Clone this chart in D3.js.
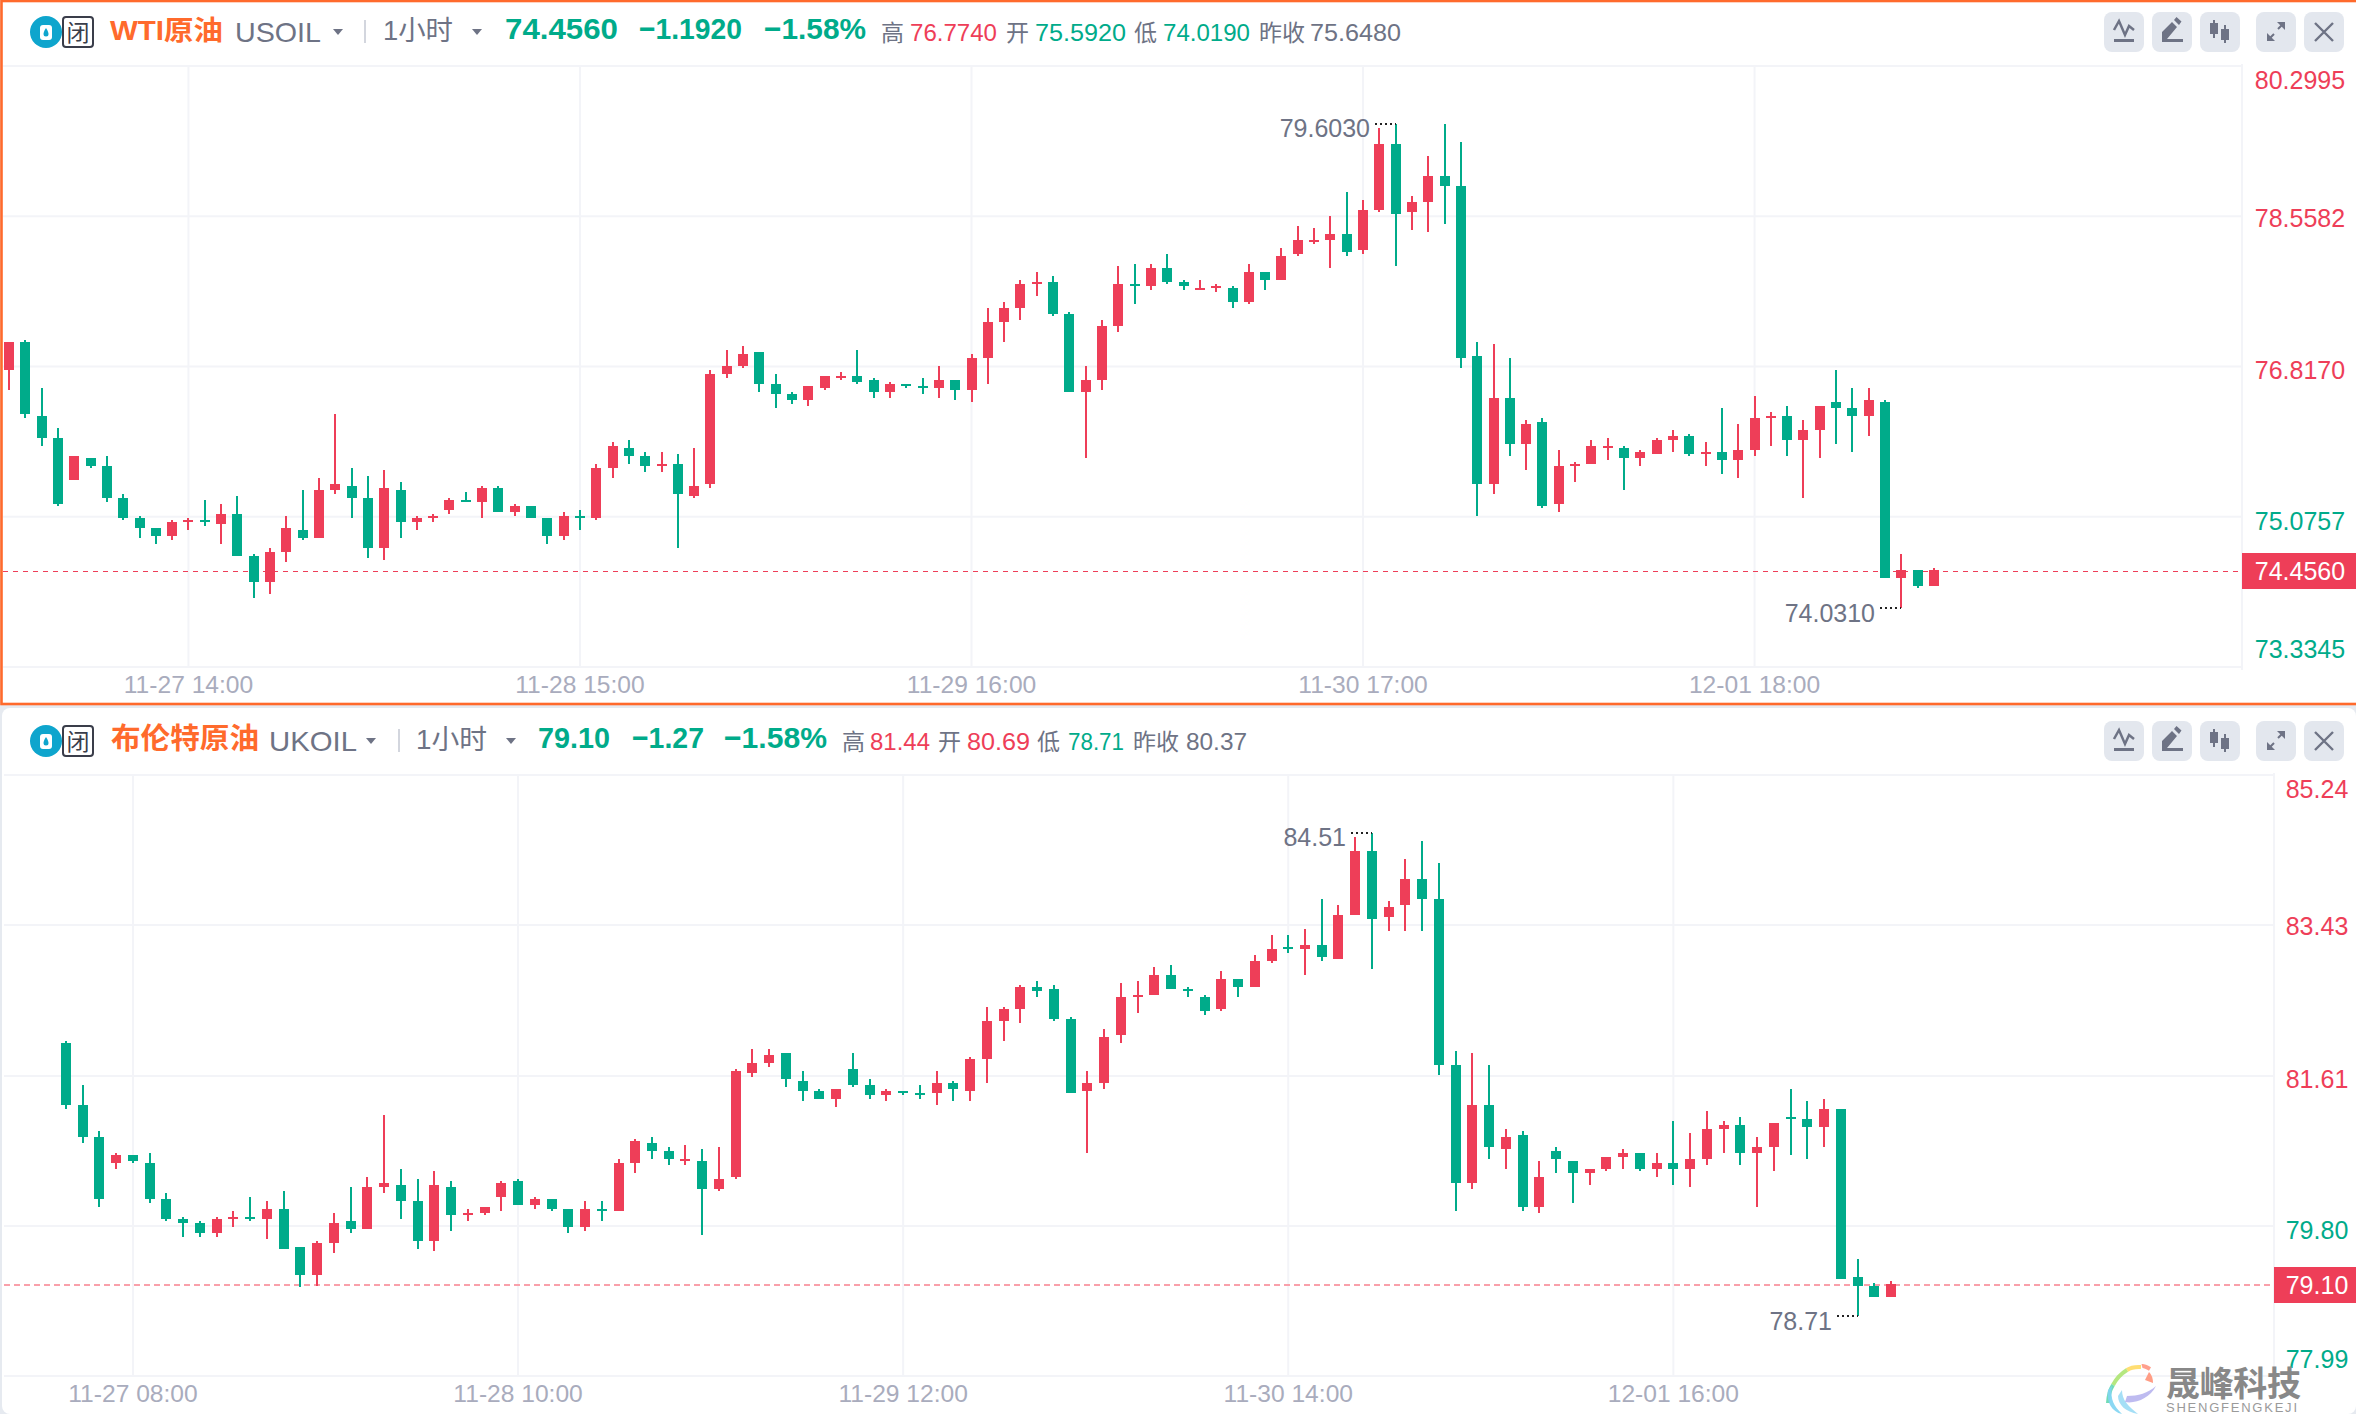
<!DOCTYPE html>
<html lang="zh">
<head>
<meta charset="utf-8">
<title>WTI原油 / 布伦特原油 1小时</title>
<script src="https://cdn.jsdelivr.net/npm/d3@7/dist/d3.min.js"></script>
<style>
html,body{margin:0;padding:0;background:#e6eaf0}
svg{display:block}
text{font-family:"Liberation Sans","Noto Sans CJK SC",sans-serif}
</style>
</head>
<body>
<svg id="chart" width="2356" height="1414"></svg>
<script>
// ---------- WTI ----------
const wtiOpen = [
76.778,77.103,76.245,75.990,75.503,75.758,75.665,75.294,75.062,74.946,
74.854,75.016,75.039,74.993,75.109,74.622,74.320,74.668,74.923,74.830,
75.387,75.433,75.294,74.714,75.387,75.016,75.062,75.155,75.271,75.248,
75.410,75.132,75.201,75.062,74.854,75.085,75.062,75.642,75.874,75.781,
75.665,75.688,75.317,75.456,76.732,76.825,76.987,76.616,76.500,76.430,
76.570,76.686,76.709,76.662,76.523,76.616,76.593,76.570,76.662,76.546,
76.917,77.335,77.497,77.775,77.798,77.428,76.523,76.662,77.288,77.775,
77.752,77.961,77.798,77.706,77.729,77.729,77.567,77.914,77.822,78.123,
78.262,78.285,78.355,78.170,78.633,79.398,78.610,78.726,79.027,78.912,
76.941,75.456,76.454,75.920,76.175,75.225,75.665,75.688,75.874,75.874,
75.758,75.804,75.967,76.013,75.804,75.828,75.735,75.851,76.222,76.245,
75.967,76.083,76.407,76.338,76.245,76.407,74.367,74.459,74.274];
const wtiHigh = [
77.103,77.126,76.570,76.106,75.781,75.758,75.781,75.341,75.085,74.946,
75.039,75.062,75.271,75.225,75.317,74.645,74.714,75.085,75.387,75.526,
76.268,75.642,75.549,75.619,75.480,75.085,75.109,75.294,75.364,75.433,
75.433,75.225,75.201,75.062,75.132,75.155,75.688,75.943,75.967,75.828,
75.828,75.804,75.874,76.778,77.010,77.056,76.987,76.732,76.523,76.593,
76.709,76.755,77.010,76.686,76.639,76.616,76.686,76.825,76.662,76.964,
77.497,77.567,77.822,77.914,77.868,77.451,76.825,77.358,77.984,78.007,
78.007,78.123,77.822,77.822,77.775,77.752,78.007,77.914,78.193,78.448,
78.425,78.564,78.842,78.749,79.584,79.630,78.796,79.259,79.630,79.422,
77.103,77.080,76.917,76.199,76.222,75.851,75.712,75.967,75.990,75.897,
75.851,75.990,76.083,76.036,75.943,76.338,76.152,76.477,76.291,76.361,
76.199,76.361,76.778,76.570,76.570,76.430,74.645,74.459,74.483];
const wtiLow = [
76.546,76.222,75.897,75.201,75.503,75.642,75.248,75.039,74.830,74.761,
74.807,74.923,74.970,74.761,74.622,74.135,74.181,74.552,74.807,74.830,
75.341,75.062,74.599,74.575,74.830,74.923,75.016,75.109,75.248,75.062,
75.132,75.085,75.062,74.761,74.807,74.923,75.039,75.526,75.688,75.596,
75.596,74.714,75.294,75.410,76.686,76.801,76.523,76.338,76.384,76.361,
76.546,76.662,76.616,76.454,76.454,76.570,76.500,76.454,76.430,76.407,
76.616,77.103,77.358,77.636,77.404,76.523,75.758,76.546,77.219,77.543,
77.706,77.775,77.706,77.706,77.682,77.497,77.543,77.706,77.822,78.100,
78.239,77.961,78.100,78.123,78.610,77.984,78.401,78.378,78.471,76.801,
75.085,75.341,75.781,75.619,75.178,75.132,75.480,75.688,75.735,75.387,
75.665,75.804,75.828,75.781,75.665,75.572,75.526,75.781,75.897,75.781,
75.294,75.758,75.920,75.828,76.013,74.367,74.019,74.251,74.274];
const wtiClose = [
77.103,76.268,75.990,75.225,75.781,75.665,75.294,75.062,74.946,74.854,
75.016,75.039,75.016,75.109,74.622,74.320,74.668,74.946,74.830,75.387,
75.456,75.294,74.714,75.410,75.016,75.062,75.085,75.271,75.248,75.410,
75.132,75.201,75.062,74.854,75.085,75.062,75.642,75.897,75.781,75.665,
75.688,75.341,75.433,76.732,76.825,76.964,76.616,76.500,76.430,76.593,
76.709,76.709,76.639,76.523,76.616,76.593,76.570,76.662,76.546,76.917,
77.335,77.497,77.775,77.798,77.428,76.523,76.662,77.288,77.775,77.752,
77.961,77.798,77.752,77.729,77.752,77.567,77.914,77.822,78.100,78.285,
78.285,78.355,78.146,78.633,79.398,78.587,78.726,79.027,78.912,76.917,
75.456,76.454,75.920,76.152,75.201,75.665,75.688,75.897,75.897,75.758,
75.828,75.967,76.013,75.804,75.828,75.735,75.851,76.222,76.245,75.967,
76.083,76.361,76.338,76.245,76.430,74.367,74.459,74.274,74.456];
const wtiPriceTicks = [80.2995,78.5582,76.8170,75.0757,73.3345];
const wtiTimeIndex = [11,35,59,83,107];
const wtiTimeLabels = ["11-27 14:00","11-28 15:00","11-29 16:00","11-30 17:00","12-01 18:00"];

// ---------- Brent ----------
const brentOpen = [
82.01,81.26,80.87,80.56,80.66,80.56,80.13,79.88,79.84,79.71,
79.88,79.91,79.88,80.01,79.55,79.21,79.59,79.86,79.76,80.27,
80.29,80.10,79.62,80.27,79.93,79.96,80.15,80.34,80.05,80.13,
80.01,79.79,80.01,79.98,80.56,80.80,80.70,80.58,80.58,80.25,
80.39,81.65,81.77,81.89,81.55,81.43,81.33,81.69,81.50,81.38,
81.43,81.40,81.40,81.52,81.43,81.81,82.27,82.42,82.68,82.66,
82.30,81.43,81.52,82.10,82.56,82.59,82.83,82.66,82.56,82.42,
82.78,82.68,83.00,83.17,83.14,83.19,83.02,83.55,84.32,83.53,
83.67,83.99,83.74,81.74,80.32,81.26,80.73,80.90,80.03,80.70,
80.58,80.44,80.49,80.63,80.68,80.49,80.56,80.49,80.61,80.97,
81.02,80.68,80.75,81.11,81.09,80.99,81.21,79.18,79.08,78.94];
const brentHigh = [
82.03,81.50,80.95,80.68,80.66,80.68,80.20,79.91,79.86,79.91,
79.98,80.15,80.10,80.22,79.55,79.62,79.96,80.27,80.39,81.14,
80.49,80.37,80.46,80.34,80.01,80.03,80.34,80.37,80.15,80.13,
80.01,80.10,80.10,80.61,80.85,80.87,80.75,80.78,80.73,80.75,
81.69,81.93,81.93,81.89,81.67,81.45,81.45,81.89,81.57,81.45,
81.43,81.50,81.67,81.55,81.84,82.44,82.44,82.71,82.76,82.71,
82.32,81.67,82.18,82.73,82.76,82.92,82.95,82.68,82.59,82.88,
82.78,83.07,83.31,83.31,83.38,83.74,83.67,84.49,84.54,83.72,
84.23,84.44,84.18,81.91,81.89,81.74,80.97,80.95,80.58,80.75,
80.58,80.49,80.63,80.73,80.68,80.68,81.07,80.92,81.19,81.07,
81.11,80.87,81.04,81.45,81.31,81.33,81.21,79.40,79.11,79.14];
const brentLow = [
81.21,80.80,80.03,80.49,80.56,80.08,79.86,79.67,79.67,79.67,
79.79,79.86,79.64,79.52,79.06,79.08,79.47,79.71,79.76,80.20,
79.88,79.52,79.50,79.74,79.86,79.93,79.98,80.05,80.01,79.98,
79.71,79.74,79.86,79.98,80.44,80.61,80.54,80.54,79.69,80.22,
80.37,81.60,81.72,81.48,81.31,81.33,81.24,81.48,81.33,81.31,
81.38,81.33,81.26,81.31,81.31,81.52,82.03,82.25,82.56,82.27,
81.40,80.68,81.45,82.01,82.37,82.59,82.66,82.56,82.35,82.39,
82.56,82.68,82.97,83.09,82.83,83.00,83.02,83.55,82.90,83.36,
83.36,83.36,81.62,79.98,80.25,80.61,80.49,79.98,79.96,80.44,
80.08,80.29,80.46,80.49,80.46,80.39,80.29,80.27,80.54,80.68,
80.54,80.03,80.46,80.66,80.61,80.75,79.16,78.71,78.94,78.94];
const brentClose = [
81.26,80.87,80.13,80.66,80.58,80.13,79.88,79.84,79.71,79.88,
79.91,79.88,80.01,79.52,79.21,79.59,79.84,79.76,80.27,80.32,
80.10,79.62,80.29,79.93,79.96,80.03,80.32,80.05,80.13,80.01,
79.79,80.01,79.98,80.56,80.82,80.70,80.61,80.61,80.25,80.37,
81.67,81.77,81.86,81.57,81.43,81.33,81.45,81.50,81.38,81.43,
81.40,81.38,81.52,81.45,81.81,82.27,82.42,82.68,82.63,82.30,
81.40,81.52,82.08,82.56,82.59,82.83,82.66,82.63,82.39,82.78,
82.68,83.00,83.14,83.14,83.19,83.04,83.55,84.32,83.50,83.65,
83.99,83.74,81.74,80.32,81.26,80.75,80.87,80.03,80.39,80.61,
80.44,80.49,80.63,80.68,80.49,80.56,80.49,80.61,80.97,81.02,
80.68,80.75,81.04,81.09,80.99,81.21,79.16,79.08,78.94,79.10];
const brentPriceTicks = [85.24,83.43,81.61,79.80,77.99];
const brentTimeIndex = [4,27,50,73,96];
const brentTimeLabels = ["11-27 08:00","11-28 10:00","11-29 12:00","11-30 14:00","12-01 16:00"];

const RED="#ee3e58", GREEN="#00ab8a", ORANGE="#ff6a2c", GRAY="#6e7385", AXIS="#a9acbd", GRID="#f3f4f8", BTN="#e3e7ee";

const svg=d3.select("#chart");

// panels
svg.append("rect").attr("width",2356).attr("height",1414).attr("fill","#e6eaf0");
svg.append("rect").attr("x",2).attr("y",708).attr("width",2354).attr("height",706).attr("rx",8).attr("fill","#fff");
svg.append("rect").attr("x",1.5).attr("y",1).attr("width",2356).attr("height",703).attr("fill","#fff")
   .attr("stroke",ORANGE).attr("stroke-width",2.6);

function drawHeader(dy, items, triangles, sepX){
  const g=svg.append("g").attr("transform",`translate(0,${dy})`);
  // exchange logo
  g.append("circle").attr("cx",46).attr("cy",32).attr("r",16).attr("fill","#0ea5cd");
  g.append("rect").attr("x",40).attr("y",25).attr("width",12).attr("height",15).attr("rx",3).attr("fill","#fff");
  g.append("path").attr("d","M46 28 C44 31 43.5 33 43.5 34 a2.5 2.5 0 0 0 5 0 C48.5 33 48 31 46 28Z").attr("fill","#0ea5cd");
  g.append("rect").attr("x",63).attr("y",17).attr("width",30).attr("height",30).attr("rx",3)
    .attr("fill","#fff").attr("stroke","#3a3d4a").attr("stroke-width",2);
  g.append("text").attr("x",78).attr("y",41).attr("text-anchor","middle").attr("font-size",23).attr("fill","#3a3d4a").text("闭");
  // separator + triangles
  g.append("rect").attr("x",sepX).attr("y",20).attr("width",2).attr("height",23).attr("fill","#d3d6de");
  triangles.forEach(x=>g.append("path").attr("d",`M${x} 29 h10 l-5 6Z`).attr("fill",GRAY));
  // text runs
  items.forEach(t=>{
    const el=g.append("text").attr("x",t.x).attr("y",t.y||41).attr("font-size",t.s).attr("fill",t.c)
      .attr("font-weight",t.b?600:400).text(t.t);
    if(t.w) el.attr("textLength",t.w).attr("lengthAdjust","spacingAndGlyphs");
  });
  // toolbar buttons
  const bx=[2104,2152,2200,2256,2304];
  bx.forEach(x=>g.append("rect").attr("x",x).attr("y",12).attr("width",40).attr("height",40).attr("rx",8).attr("fill",BTN));
  const ic=(x)=>g.append("g").attr("transform",`translate(${x},12)`);
  let a=ic(bx[0]);
  a.append("rect").attr("x",10).attr("y",27).attr("width",20).attr("height",3).attr("fill",GRAY);
  a.append("path").attr("d","M10 18 L15 9 L21 23 L25 14 L30 18").attr("fill","none").attr("stroke",GRAY).attr("stroke-width",2.5);
  a=ic(bx[1]);
  a.append("rect").attr("x",10).attr("y",27).attr("width",21).attr("height",3).attr("fill",GRAY);
  a.append("path").attr("d","M10 27 V20 L20 10 L25 15 L15 27Z M22 8 L24.5 5 L29.5 9.5 L27 13Z").attr("fill",GRAY);
  a=ic(bx[2]);
  a.append("rect").attr("x",10).attr("y",11).attr("width",8).attr("height",11).attr("fill",GRAY);
  a.append("rect").attr("x",13).attr("y",8).attr("width",2).attr("height",18).attr("fill",GRAY);
  a.append("rect").attr("x",21).attr("y",17).attr("width",8).attr("height",11).attr("fill",GRAY);
  a.append("rect").attr("x",24).attr("y",13).attr("width",2).attr("height",18).attr("fill",GRAY);
  a=ic(bx[3]);
  a.append("path").attr("d","M12 28 L18 22 M22 17 L28 11").attr("stroke",GRAY).attr("stroke-width",2).attr("fill","none");
  a.append("path").attr("d","M11 29 V21 L19 29Z M29 10 V18 L21 10Z").attr("fill",GRAY);
  a=ic(bx[4]);
  a.append("path").attr("d","M11 11 L29 29 M29 11 L11 29").attr("stroke",GRAY).attr("stroke-width",2.4).attr("fill","none");
}

function drawChart(c){
  const n=c.open.length;
  const x=d3.scaleLinear().domain([0,n-1]).range(c.xRange);
  const y=d3.scaleLinear().domain(d3.extent(c.priceTicks)).range([c.plotBottom,c.plotTop]);
  const g=svg.append("g");

  // horizontal grid + price labels
  const yAxis=d3.axisRight(y).offset(0).tickValues(c.priceTicks).tickSize(-(c.axisX-c.plotLeft))
      .tickFormat(d3.format(c.fmt));
  const ya=g.append("g").attr("transform",`translate(${c.axisX},0)`).call(yAxis);
  ya.select(".domain").remove();
  ya.selectAll("line").attr("stroke",GRID).attr("stroke-width",2);
  ya.selectAll("text").attr("font-size",c.labelSize).attr("text-anchor","middle")
    .attr("x",c.labelX-c.axisX).attr("dy",0)
    .attr("y",(d,i)=>c.labelOffsets[i])
    .attr("fill",d=>d>=c.prevClose?RED:GREEN);
  // axis rule
  g.append("rect").attr("x",c.axisX-1).attr("y",c.plotTop-2).attr("width",2).attr("height",c.plotBottom-c.plotTop+5).attr("fill",GRID);

  // vertical grid + time labels
  const xAxis=d3.axisBottom(x).offset(0).tickValues(c.timeIndex).tickSize(-(c.plotBottom-c.plotTop+2))
      .tickFormat((d,i)=>c.timeLabels[i]);
  const xa=g.append("g").attr("transform",`translate(0,${c.plotBottom+1})`).call(xAxis);
  xa.select(".domain").remove();
  xa.selectAll("line").attr("stroke",GRID).attr("stroke-width",2);
  xa.selectAll("text").attr("font-size",24.6).attr("fill",AXIS).attr("dy",0).attr("y",c.timeBaseline-c.plotBottom-1);

  // last price line
  const ly=Math.round(y(c.last))+1;
  g.append("line").attr("x1",c.plotLeft).attr("x2",c.axisX).attr("y1",ly).attr("y2",ly)
    .attr("stroke",c.lastStroke).attr("stroke-width",c.lastWidth).attr("stroke-dasharray",c.lastDash)
    .attr("shape-rendering","crispEdges");

  // candles
  const data=d3.range(n).map(i=>({i,o:c.open[i],h:c.high[i],l:c.low[i],cl:c.close[i]}));
  const cg=g.append("g").attr("shape-rendering","crispEdges");
  const col=d=>d.cl>=d.o?RED:GREEN;
  cg.selectAll("rect.wick").data(data).join("rect").attr("class","wick")
    .attr("x",d=>Math.round(x(d.i))-1).attr("width",2)
    .attr("y",d=>Math.round(y(d.h))).attr("height",d=>Math.max(1,Math.round(y(d.l))-Math.round(y(d.h))))
    .attr("fill",col);
  cg.selectAll("rect.body").data(data).join("rect").attr("class","body")
    .attr("x",d=>Math.round(x(d.i))-5).attr("width",10)
    .attr("y",d=>Math.round(y(Math.max(d.o,d.cl))))
    .attr("height",d=>Math.max(2,Math.round(y(Math.min(d.o,d.cl)))-Math.round(y(Math.max(d.o,d.cl)))))
    .attr("fill",col);

  // high / low annotations
  [[c.hiIndex,c.high[c.hiIndex],c.hiLabel,13],[c.loIndex,c.low[c.loIndex],c.loLabel,14]].forEach(([i,v,lab,dy])=>{
    const px=Math.round(x(i)), py=Math.round(y(v));
    g.append("line").attr("x1",px-21).attr("x2",px).attr("y1",py).attr("y2",py)
      .attr("stroke","#222").attr("stroke-width",2).attr("stroke-dasharray","2,3");
    g.append("text").attr("x",px-26).attr("y",py+dy).attr("text-anchor","end")
      .attr("font-size",25).attr("fill",GRAY).text(lab);
  });

  // last price tag
  g.append("rect").attr("x",c.axisX).attr("y",ly-18).attr("width",2356-c.axisX).attr("height",36).attr("fill",RED);
  g.append("text").attr("x",c.labelX).attr("y",ly+9).attr("text-anchor","middle").attr("font-size",c.labelSize)
    .attr("fill","#fff").text(c.lastLabel);
}

// ---------- header 1 ----------
drawHeader(0,[
 {t:"WTI原油",x:110,s:27,c:ORANGE,b:1,w:113,y:40},
 {t:"USOIL",x:235,s:28,c:GRAY,w:86,y:42},
 {t:"1小时",x:383,s:27,c:GRAY,w:70,y:40},
 {t:"74.4560",x:505,s:30,c:GREEN,b:1,w:113,y:39},
 {t:"−1.1920",x:639,s:30,c:GREEN,b:1,w:103,y:39},
 {t:"−1.58%",x:764,s:30,c:GREEN,b:1,w:102,y:39},
 {t:"高",x:881,s:23,c:GRAY},{t:"76.7740",x:910,s:24,c:RED,w:87},
 {t:"开",x:1006,s:23,c:GRAY},{t:"75.5920",x:1035,s:24,c:GREEN,w:91},
 {t:"低",x:1134,s:23,c:GRAY},{t:"74.0190",x:1163,s:24,c:GREEN,w:87},
 {t:"昨收",x:1259,s:23,c:GRAY},{t:"75.6480",x:1310,s:24,c:GRAY,w:91}
],[333,472],364);

// ---------- header 2 ----------
drawHeader(709,[
 {t:"布伦特原油",x:111,s:29,c:ORANGE,b:1,w:148,y:40},
 {t:"UKOIL",x:269,s:28,c:GRAY,w:88,y:42},
 {t:"1小时",x:416,s:27,c:GRAY,w:71,y:40},
 {t:"79.10",x:538,s:30,c:GREEN,b:1,w:72,y:39},
 {t:"−1.27",x:632,s:30,c:GREEN,b:1,w:72,y:39},
 {t:"−1.58%",x:724,s:30,c:GREEN,b:1,w:103,y:39},
 {t:"高",x:842,s:23,c:GRAY},{t:"81.44",x:870,s:24,c:RED,w:60},
 {t:"开",x:938,s:23,c:GRAY},{t:"80.69",x:967,s:24,c:RED,w:63},
 {t:"低",x:1037,s:23,c:GRAY},{t:"78.71",x:1068,s:24,c:GREEN,w:56},
 {t:"昨收",x:1133,s:23,c:GRAY},{t:"80.37",x:1186,s:24,c:GRAY,w:61}
],[366,506],398);

drawChart({
 open:wtiOpen,high:wtiHigh,low:wtiLow,close:wtiClose,
 priceTicks:wtiPriceTicks,fmt:".4f",prevClose:75.6480,
 timeIndex:wtiTimeIndex,timeLabels:wtiTimeLabels,
 xRange:[9,1934],plotLeft:3,plotTop:66,plotBottom:667,axisX:2242,
 labelX:2300,labelSize:25,labelOffsets:[23,11,12,13,-9],timeBaseline:693,
 last:74.4560,lastLabel:"74.4560",lastStroke:RED,lastWidth:1,lastDash:"5,5",
 hiIndex:85,hiLabel:"79.6030",loIndex:116,loLabel:"74.0310"
});
drawChart({
 open:brentOpen,high:brentHigh,low:brentLow,close:brentClose,
 priceTicks:brentPriceTicks,fmt:".2f",prevClose:80.37,
 timeIndex:brentTimeIndex,timeLabels:brentTimeLabels,
 xRange:[66,1891],plotLeft:4,plotTop:775,plotBottom:1376,axisX:2274,
 labelX:2317,labelSize:25,labelOffsets:[23,10,12,13,-8],timeBaseline:1402,
 last:79.10,lastLabel:"79.10",lastStroke:"#f9a0aa",lastWidth:2,lastDash:"6,4",
 hiIndex:78,hiLabel:"84.51",loIndex:107,loLabel:"78.71"
});

// ---------- watermark ----------
const wm=svg.append("g");
[["#ff8f7a",[2150,1369],[2142,1366]],["#ffd85a",[2141,1367],[2127,1370]],["#a8e36a",[2127,1370],[2113,1385]],
 ["#58d6a8",[2113,1385],[2108,1403]]].forEach(([col,a,b])=>{
   wm.append("path").attr("d",`M${a[0]} ${a[1]} Q${(a[0]+b[0])/2-2} ${(a[1]+b[1])/2-2} ${b[0]} ${b[1]}`)
     .attr("fill","none").attr("stroke",col).attr("stroke-width",4).attr("opacity",.85);
 });
wm.append("path").attr("d","M2149 1372 Q2153 1376 2153 1383 L2145 1380Z").attr("fill","#ff9d85");
wm.append("path").attr("d","M2108 1390 C2106 1402 2112 1412 2122 1414 C2114 1406 2110 1400 2112 1386Z").attr("fill","#7fd4f2").attr("opacity",.9);
wm.append("path").attr("d","M2118 1396 C2118 1405 2126 1412 2138 1414 C2128 1406 2122 1400 2122 1390Z").attr("fill","#9bdcf5").attr("opacity",.9);
wm.append("path").attr("d","M2125 1402 C2136 1404 2150 1398 2156 1386 C2148 1393 2138 1396 2127 1396Z").attr("fill","#b7b4ee").attr("opacity",.9);
wm.append("text").attr("x",2166).attr("y",1396).attr("font-size",34).attr("font-weight",700)
  .attr("fill","#888").attr("font-family","'Noto Sans CJK SC'").attr("textLength",135).text("晟峰科技");
wm.append("text").attr("x",2166).attr("y",1412).attr("font-size",13).attr("fill","#9a9a9a")
  .attr("textLength",131).text("SHENGFENGKEJI");
</script>
</body>
</html>
